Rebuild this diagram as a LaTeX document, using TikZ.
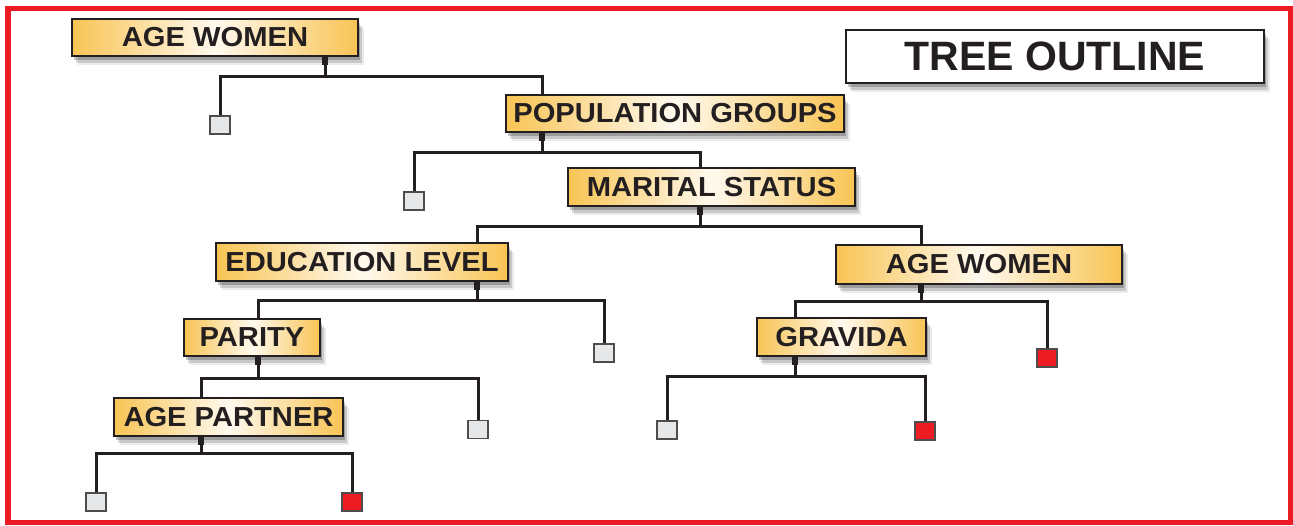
\documentclass[tikz,border=0pt]{standalone}
\usepackage{fontspec}
\setmainfont{Liberation Sans}[FakeStretch=1.06]
\newfontfamily\titlefont{Liberation Sans}
\usetikzlibrary{shadows}
\definecolor{frameRed}{RGB}{237,28,36}
\definecolor{boxOrange}{RGB}{248,196,84}
\definecolor{boxLight}{RGB}{255,249,238}
\definecolor{inkC}{RGB}{35,31,32}
\definecolor{leafGray}{RGB}{230,231,232}
\definecolor{leafRed}{RGB}{237,28,36}
\tikzset{
  softshadow/.style={
    drop shadow={shadow xshift=2pt, shadow yshift=-4pt, fill=black, opacity=0.22},
    drop shadow={shadow xshift=4pt, shadow yshift=-7pt, fill=black, opacity=0.15},
    drop shadow={shadow xshift=6pt, shadow yshift=-9pt, fill=black, opacity=0.08}},
  catbox/.style={draw=inkC, line width=1.8pt, left color=boxOrange, right color=boxOrange,
    middle color=boxLight, text=inkC, inner sep=0pt,
    font=\fontsize{27.5}{30}\selectfont\bfseries, softshadow},
  titlebox/.style={draw=inkC, line width=1.8pt, fill=white, text=inkC, inner sep=0pt,
    minimum width=418pt, minimum height=53pt,
    font=\titlefont\fontsize{41}{44}\selectfont\bfseries, softshadow},
  leaf/.style={draw=inkC!80, line width=1.5pt, fill=leafGray, minimum width=20pt, minimum height=18pt, inner sep=0pt},
  redleaf/.style={leaf, fill=leafRed},
  conn/.style={draw=inkC, line width=3pt},
  tab/.style={fill=inkC}
}
\newcommand{\stemtab}[1]{\fill[tab] ([xshift=-2.6pt]#1) rectangle ++(5.2,8);}
\begin{document}
\begin{tikzpicture}[x=1pt,y=-1pt]
\useasboundingbox (0,0) rectangle (1293,525);
\draw[frameRed, line width=5.5pt] (8,8.5) rectangle (1290.5,522.5);

% category nodes
\node[catbox, minimum width=286pt, minimum height=37pt] (aw1) at (215,37.5) {AGE WOMEN};
\node[catbox, minimum width=338pt, minimum height=37pt] (pg) at (675,113.5) {POPULATION GROUPS};
\node[catbox, minimum width=287pt, minimum height=38pt] (ms) at (711.5,187) {MARITAL STATUS};
\node[catbox, minimum width=292pt, minimum height=38pt] (el) at (362,262) {EDUCATION LEVEL};
\node[catbox, minimum width=286pt, minimum height=39pt] (aw2) at (979,264.5) {AGE WOMEN};
\node[catbox, minimum width=136pt, minimum height=37pt] (par) at (252,337.5) {PARITY};
\node[catbox, minimum width=169pt, minimum height=38pt] (gr) at (841.5,337) {GRAVIDA};
\node[catbox, minimum width=229pt, minimum height=38pt] (ap) at (228.5,417) {AGE PARTNER};
\node[titlebox] (title) at (1055,56.5) {TREE OUTLINE};

% leaves
\node[leaf] (l1) at (220,125) {};
\node[leaf] (l2) at (414,201) {};
\node[leaf] (l3) at (604,353) {};
\node[redleaf] (l4) at (1047,358) {};
\node[leaf] (l5) at (478,429.5) {};
\node[leaf] (l6) at (667,430) {};
\node[redleaf] (l7) at (925,431) {};
\node[leaf] (l8) at (96,502) {};
\node[redleaf] (l9) at (352,502) {};

% junctions
\coordinate (j1) at (325,76);
\coordinate (j2) at (542,152);
\coordinate (j3) at (700,226);
\coordinate (j4) at (477,300);
\coordinate (j5) at (921,301);
\coordinate (j6) at (258,378);
\coordinate (j7) at (795,376);
\coordinate (j8) at (201,453);

% connectors
\draw[conn] (aw1.south -| j1) -- (j1);
\draw[conn] (l1.north) |- (j1) -| (pg.north -| j2);
\draw[conn] (pg.south -| j2) -- (j2);
\draw[conn] (l2.north) |- (j2) -| (ms.north -| j3);
\draw[conn] (ms.south -| j3) -- (j3);
\draw[conn] (el.north -| j4) |- (j3) -| (aw2.north -| j5);
\draw[conn] (el.south -| j4) -- (j4);
\draw[conn] (par.north -| j6) |- (j4) -| (l3.north);
\draw[conn] (aw2.south -| j5) -- (j5);
\draw[conn] (gr.north -| j7) |- (j5) -| (l4.north);
\draw[conn] (par.south -| j6) -- (j6);
\draw[conn] (ap.north -| j8) |- (j6) -| (l5.north);
\draw[conn] (gr.south -| j7) -- (j7);
\draw[conn] (l6.north) |- (j7) -| (l7.north);
\draw[conn] (ap.south -| j8) -- (j8);
\draw[conn] (l8.north) |- (j8) -| (l9.north);

% stem tabs
\stemtab{aw1.south -| j1}
\stemtab{pg.south -| j2}
\stemtab{ms.south -| j3}
\stemtab{el.south -| j4}
\stemtab{aw2.south -| j5}
\stemtab{par.south -| j6}
\stemtab{gr.south -| j7}
\stemtab{ap.south -| j8}
\end{tikzpicture}
\end{document}
